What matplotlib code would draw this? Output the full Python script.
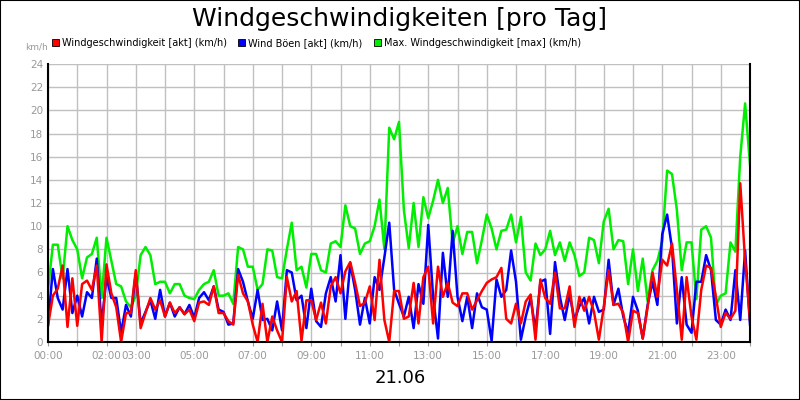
import numpy as np
import matplotlib
matplotlib.use("Agg")
import matplotlib.pyplot as plt
from matplotlib.patches import Patch

# 10-minute samples, 00:00 .. 24:00 (hours)
step_hours = 10 / 60

wind_akt = [1.4, 4, 4.6, 6.6, 1.3, 5.5, 1.4, 5, 5.3, 4.5, 6.6, 0, 6.7, 4.2, 3, 0, 2.5, 2.5, 6.2, 1.2,
            2.5, 3.8, 2.8, 3.6, 2.2, 3.4, 2.5, 3, 2.4, 2.8, 1.8, 3.4, 3.5, 3.2, 4.8, 2.5, 2.5, 1.8, 1.5, 5.8,
            4.2, 3.5, 1.5, 0, 3.3, 0, 2.2, 1, 0, 5.6, 3.5, 4.4, 0.1, 3.6, 3.6, 1.9, 3.4, 1.6, 4.8, 5.6,
            4.2, 6.1, 6.9, 5.1, 3.1, 3.4, 4.8, 1.9, 7.1, 1.9, 0, 4.4, 4.4, 2, 2.2, 5.1, 1.6, 5.6, 6.5, 1.6,
            6.5, 3.9, 5.1, 3.4, 3.1, 4.2, 4.2, 2.8, 3.6, 4.4, 5.1, 5.4, 5.6, 6.4, 2, 1.6, 3.3, 1.6, 3.5, 4.1,
            0.2, 5.4, 3.8, 3.3, 6, 2.9, 2.9, 4.8, 1.3, 3.9, 2.7, 3.9, 2.6, 0.2, 3, 6.2, 3.2, 3.3, 2.5, 0,
            2.7, 2.5, 0.3, 3, 6, 3.9, 7.1, 6.6, 8.5, 4.5, 0.2, 5.6, 2.2, 0.2, 4.5, 6.6, 6.4, 3.9, 1.3, 2.5,
            2, 2.7, 13.7, 7, 1.9]

wind_boeen = [1.5, 6.3, 3.8, 2.8, 6.3, 2.5, 4, 2.2, 4.3, 3.8, 7.2, 1.5, 5.6, 3.8, 3.8, 0.8, 3.2, 2.2, 5.9, 1.6,
              2.6, 3.6, 2, 4.5, 2.2, 3.4, 2.2, 3, 2.4, 3.2, 2.1, 3.8, 4.3, 3.6, 4.8, 2.8, 2.6, 1.5, 1.6, 6.3,
              5.2, 3.5, 2, 4.5, 1.9, 2, 1, 3.5, 1, 6.2, 6, 3.6, 4, 1.2, 4.6, 1.8, 1.3, 4.2, 5.6, 3.5,
              7.5, 2, 6.8, 4.5, 1.5, 3.8, 1.6, 5.6, 4.5, 7.3, 10.3, 4.5, 3.3, 2.2, 3.9, 1.2, 5, 3.3, 10.1, 3.9,
              0.3, 7.7, 3.9, 9.6, 3.9, 1.8, 3.9, 1.2, 4.2, 3, 2.8, 0.1, 5.4, 3.9, 4.5, 7.9, 5.2, 0.2, 2.2, 3.8,
              1, 5.2, 5.4, 0.7, 6.9, 3.9, 1.9, 4.1, 1.9, 3.1, 3.8, 1.6, 3.9, 2.6, 2.8, 7.1, 3.2, 4.6, 2.2, 0.8,
              3.9, 2.7, 0.3, 3.2, 5.2, 3.2, 9.3, 11, 8.1, 1.6, 5.6, 1.5, 0.8, 5.2, 5.2, 7.5, 6.2, 1.9, 1.5, 2.8,
              1.9, 6.2, 1.9, 7.9, 1.5]

wind_max = [4.5, 8.4, 8.4, 5.5, 10, 8.8, 8, 5.5, 7.3, 7.6, 9, 3.8, 9, 7, 5, 4.8, 3.5, 3, 4, 7.5,
            8.2, 7.5, 5, 5.2, 5.2, 4.2, 5, 5, 4, 3.8, 3.7, 4.5, 5, 5.2, 6.2, 4, 4, 4.2, 3.3, 8.2,
            8, 6.5, 6.5, 4.5, 5, 8, 7.9, 5.6, 5.5, 8, 10.3, 6.2, 6.5, 4.7, 7.6, 7.6, 6.2, 6, 8.5, 8.7,
            8.2, 11.8, 10, 9.8, 7.6, 8.5, 8.7, 10, 12.3, 8, 18.5, 17.5, 19, 11.4, 8.1, 12, 8.2, 12.5, 10.7, 12.2,
            14, 12, 13.3, 8.5, 10, 7.6, 9.5, 9.5, 6.8, 8.8, 11, 9.8, 8, 9.6, 9.7, 11, 8.6, 10.8, 6, 5.3,
            8.5, 7.5, 8, 9.6, 7.5, 8.6, 7, 8.6, 7.5, 5.7, 6, 9, 8.8, 6.8, 10.4, 11.5, 8, 8.8, 8.7, 5,
            8, 4.4, 7.2, 3.5, 6.2, 7, 8.7, 14.8, 14.5, 11.4, 6.2, 8.6, 8.6, 3.7, 9.7, 10, 9, 3.2, 4, 4.2,
            8.6, 7.8, 16, 20.6, 15.3]

tick_hours = [0, 2, 3, 5, 7, 9, 11, 13, 15, 17, 19, 21, 23]
tick_labels = ["00:00", "02:00", "03:00", "05:00", "07:00", "09:00", "11:00",
               "13:00", "15:00", "17:00", "19:00", "21:00", "23:00"]
y_ticks = list(range(0, 25, 2))

t = np.arange(len(wind_akt)) * step_hours

fig = plt.figure(figsize=(8, 4), dpi=100)
fig.patch.set_facecolor("white")
fig.patches.append(plt.Rectangle((0, 0), 1, 1, transform=fig.transFigure,
                                 fill=False, edgecolor="black", linewidth=1.5))

ax = fig.add_axes([0.06, 0.145, 0.8775, 0.695])
ax.plot(t, wind_max, color="#00ee00", lw=1.8)
ax.plot(t, wind_boeen, color="#0000ff", lw=1.8)
ax.plot(t, wind_akt, color="#ff0000", lw=1.8)

ax.set_xlim(0, 24)
ax.set_ylim(0, 24)
ax.set_xticks(np.arange(0, 25, 1), minor=True)
ax.set_xticks(tick_hours)
ax.set_xticklabels(tick_labels)
ax.set_yticks(y_ticks)
ax.grid(True, which="both", color="#c0c0c0", lw=1)
ax.set_axisbelow(True)
ax.tick_params(axis="both", which="both", labelsize=7.5, colors="#999999", length=3, width=0.8)
ax.tick_params(axis="y", length=0)
for s in ["left", "bottom", "right"]:
    ax.spines[s].set_color("black")
    ax.spines[s].set_linewidth(1.5)
ax.spines["top"].set_visible(False)

fig.text(0.5, 0.952, "Windgeschwindigkeiten [pro Tag]", ha="center", va="center", fontsize=18)
fig.text(0.032, 0.882, "km/h", ha="left", va="center", fontsize=6.5, color="#999999")
fig.text(0.5, 0.055, "21.06", ha="center", va="center", fontsize=13)

handles = [Patch(facecolor="#ff0000", edgecolor="black", lw=0.6),
           Patch(facecolor="#0000ff", edgecolor="black", lw=0.6),
           Patch(facecolor="#00ee00", edgecolor="black", lw=0.6)]
labels = ["Windgeschwindigkeit [akt] (km/h)", "Wind Böen [akt] (km/h)",
          "Max. Windgeschwindigkeit [max] (km/h)"]
fig.legend(handles, labels, loc="center left", bbox_to_anchor=(0.065, 0.893), ncol=3,
           frameon=False, fontsize=7, handlelength=0.7, handleheight=0.7,
           handletextpad=0.3, columnspacing=1.2, borderaxespad=0, borderpad=0)

fig.savefig("out.png", dpi=100, facecolor="white")
